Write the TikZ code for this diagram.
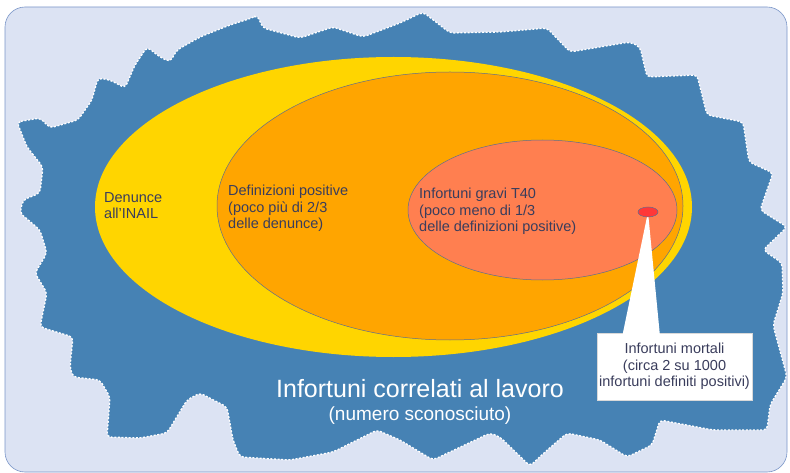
\documentclass[tikz,border=0pt]{standalone}
\usepackage{fontspec}
\setmainfont{Liberation Sans}
\usetikzlibrary{shapes.geometric,calc}
\definecolor{bgfill}{HTML}{DCE3F3}
\definecolor{bgline}{HTML}{7A96C8}
\definecolor{blob}{HTML}{4682B4}
\definecolor{ygold}{HTML}{FFD500}
\definecolor{orng}{HTML}{FFA500}
\definecolor{corl}{HTML}{FF7F50}
\definecolor{rred}{HTML}{FF3838}
\definecolor{eline}{HTML}{5E6E8E}
\definecolor{txt}{HTML}{3A3D5C}
\tikzset{
  ell/.style={ellipse, draw=eline, line width=0.5pt, inner sep=0pt},
  lbl/.style={anchor=north west, inner sep=0pt, align=left, text=txt,
    font=\fontsize{14.5}{16.5}\selectfont},
}
\begin{document}
\begin{tikzpicture}[x=1pt,y=-1pt]
\useasboundingbox (0,0) rectangle (790,473);
% background panel
\draw[bgline, fill=bgfill, line width=0.6pt, rounded corners=20pt] (5,7) rectangle (787,472);
% jagged blob
\fill[blob, rounded corners=4pt]
 (17,122) -- (40,118) -- (50,128) -- (78,120) -- (92,100) -- (98,78) -- (110,80) -- (125,88)
 -- (135,65) -- (147,47) -- (160,57) -- (170,62) -- (177,50) -- (200,37) -- (230,25) -- (252,18)
 -- (257,15) -- (263,28) -- (300,38) -- (333,27) -- (363,37) -- (400,23) -- (423,12) -- (450,33)
 -- (500,32) -- (547,28) -- (570,52) -- (630,42) -- (640,47) -- (647,77) -- (697,75) -- (707,115)
 -- (743,122) -- (749,162) -- (773,173) -- (760,210) -- (787,227) -- (763,250) -- (782,263)
 -- (783,293) -- (773,325) -- (787,377) -- (770,405) -- (767,430) -- (713,430) -- (660,420)
 -- (652,445) -- (627,457) -- (600,440) -- (567,433) -- (545,452) -- (530,466) -- (500,437)
 -- (490,433) -- (433,460) -- (400,440) -- (377,430) -- (333,452) -- (290,460) -- (240,457)
 -- (233,440) -- (227,407) -- (200,393) -- (187,400) -- (167,433) -- (140,438) -- (107,437)
 -- (110,397) -- (100,380) -- (73,377) -- (70,367) -- (73,337) -- (40,327) -- (47,293)
 -- (35,273) -- (47,253) -- (40,230) -- (20,213) -- (23,200) -- (40,193) -- (43,167) -- (27,147) -- cycle;
\draw[white, line width=1.3pt, dash pattern=on 2pt off 1.6pt, rounded corners=4pt]
 (17,122) -- (40,118) -- (50,128) -- (78,120) -- (92,100) -- (98,78) -- (110,80) -- (125,88)
 -- (135,65) -- (147,47) -- (160,57) -- (170,62) -- (177,50) -- (200,37) -- (230,25) -- (252,18)
 -- (257,15) -- (263,28) -- (300,38) -- (333,27) -- (363,37) -- (400,23) -- (423,12) -- (450,33)
 -- (500,32) -- (547,28) -- (570,52) -- (630,42) -- (640,47) -- (647,77) -- (697,75) -- (707,115)
 -- (743,122) -- (749,162) -- (773,173) -- (760,210) -- (787,227) -- (763,250) -- (782,263)
 -- (783,293) -- (773,325) -- (787,377) -- (770,405) -- (767,430) -- (713,430) -- (660,420)
 -- (652,445) -- (627,457) -- (600,440) -- (567,433) -- (545,452) -- (530,466) -- (500,437)
 -- (490,433) -- (433,460) -- (400,440) -- (377,430) -- (333,452) -- (290,460) -- (240,457)
 -- (233,440) -- (227,407) -- (200,393) -- (187,400) -- (167,433) -- (140,438) -- (107,437)
 -- (110,397) -- (100,380) -- (73,377) -- (70,367) -- (73,337) -- (40,327) -- (47,293)
 -- (35,273) -- (47,253) -- (40,230) -- (20,213) -- (23,200) -- (40,193) -- (43,167) -- (27,147) -- cycle;
% ellipses
\node[ell, draw=none, fill=ygold, minimum width=597pt, minimum height=300pt] (den) at (393.5,207) {};
\node[ell, fill=orng, minimum width=466pt, minimum height=268pt] (def) at (450,206) {};
\node[ell, fill=corl, minimum width=269pt, minimum height=140pt] (grav) at (542.5,210) {};
% labels
\node[lbl] (tden) at (104,192) {Denunce\\all’INAIL};
\node[lbl] (tdef) at (228,185) {Definizioni positive\\(poco più di 2/3\\delle denunce)};
\node[lbl] (tgrav) at (419,188) {Infortuni gravi T40\\(poco meno di 1/3\\delle definizioni positive)};
% title
\node[anchor=base, inner sep=0pt, text=white, font=\fontsize{25}{28}\selectfont] (title) at (420,397) {Infortuni correlati al lavoro};
\node[anchor=base, inner sep=0pt, text=white, font=\fontsize{19}{22}\selectfont] (sub) at (420,420) {(numero sconosciuto)};
% callout
\coordinate (tip) at (648,212);
\node[draw=black!15, fill=white, line width=0.5pt, minimum width=155pt, minimum height=67pt, inner sep=0pt,
  align=center, text=txt, font=\fontsize{14.5}{16.5}\selectfont] (call) at (674.5,366.5)
  {Infortuni mortali\\(circa 2 su 1000\\infortuni definiti positivi)};
\fill[white] ($(call.north west)+(26,1)$) -- (tip) -- ($(call.north west)+(63,1)$) -- cycle;
\node[ell, fill=rred, minimum width=20pt, minimum height=10pt] (mort) at (tip) {};
\end{tikzpicture}
\end{document}
